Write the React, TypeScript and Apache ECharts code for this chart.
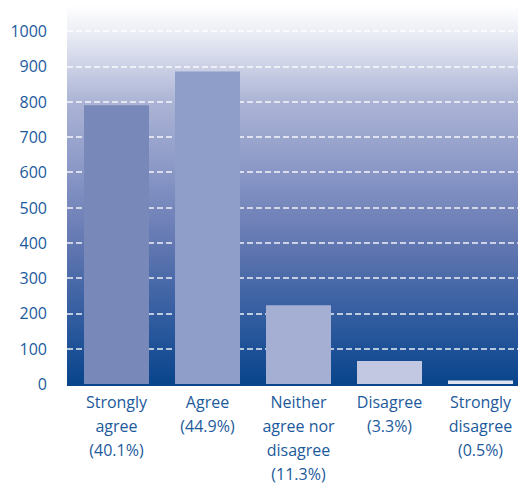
import React, { useEffect, useRef } from "react";
import * as echarts from "echarts";

const categories = [
  "Strongly\nagree\n(40.1%)",
  "Agree\n(44.9%)",
  "Neither\nagree nor\ndisagree\n(11.3%)",
  "Disagree\n(3.3%)",
  "Strongly\ndisagree\n(0.5%)",
];
const responses = [790, 885, 223, 65, 10];
const barColors = ["#7889b9", "#8e9ec9", "#a4afd3", "#c3c8e2", "#e1e3f1"];
const yTicks = { min: 0, max: 1000, interval: 100 };

const TEXT = "#1c5a9c";
const FONT = "'Open Sans', sans-serif";

export default function App() {
  const ref = useRef<HTMLDivElement>(null);

  useEffect(() => {
    if (!ref.current) return;
    const chart = echarts.init(ref.current, undefined, { renderer: "svg" });
    chart.setOption({
      animation: false,
      backgroundColor: "#ffffff",
      graphic: [
        {
          type: "rect",
          z: -10,
          silent: true,
          shape: { x: 67, y: 5, width: 451, height: 381 },
          style: {
            fill: new echarts.graphic.LinearGradient(0, 0, 0, 1, [
              { offset: 0, color: "#ffffff" },
              { offset: 0.07, color: "#eceef6" },
              { offset: 0.25, color: "#adb5d6" },
              { offset: 0.45, color: "#8795c5" },
              { offset: 0.62, color: "#6478b2" },
              { offset: 0.85, color: "#2b589d" },
              { offset: 1, color: "#07448a" },
            ]),
          },
        },
      ],
      grid: [
        { left: 67, right: 0, top: 31, height: 353, outerBoundsMode: "none" },
        { left: 71, width: 455, top: 31, height: 353, outerBoundsMode: "none" },
      ],
      xAxis: [
        { type: "category", gridIndex: 0, data: categories, show: false },
        {
          type: "category",
          gridIndex: 1,
          data: categories,
          axisLine: { show: false },
          axisTick: { show: false },
          axisLabel: {
            color: TEXT,
            fontFamily: FONT,
            fontSize: 16,
            lineHeight: 24,
            margin: 6,
            interval: 0,
            align: "center",
          },
        },
      ],
      yAxis: [
        {
          type: "value",
          gridIndex: 0,
          ...yTicks,
          axisLine: { show: false },
          axisTick: { show: false },
          axisLabel: {
            color: TEXT,
            fontFamily: FONT,
            fontSize: 16,
            margin: 20,
            formatter: (v: number) => String(v),
          },
          splitLine: {
            show: true,
            showMinLine: false,
            lineStyle: {
              color: "rgba(255,255,255,0.9)",
              width: 1.5,
              type: [6, 3],
            },
          },
        },
        {
          type: "value",
          gridIndex: 1,
          ...yTicks,
          show: false,
          splitLine: { show: false },
        },
      ],
      series: [
        {
          type: "bar",
          xAxisIndex: 1,
          yAxisIndex: 1,
          barWidth: 65,
          data: responses.map((v, i) => ({
            value: v,
            itemStyle: { color: barColors[i] },
          })),
        },
      ],
    });
    return () => chart.dispose();
  }, []);

  return (
    <div
      ref={ref}
      style={{ position: "fixed", left: 0, top: 0, width: 518, height: 490 }}
    />
  );
}
